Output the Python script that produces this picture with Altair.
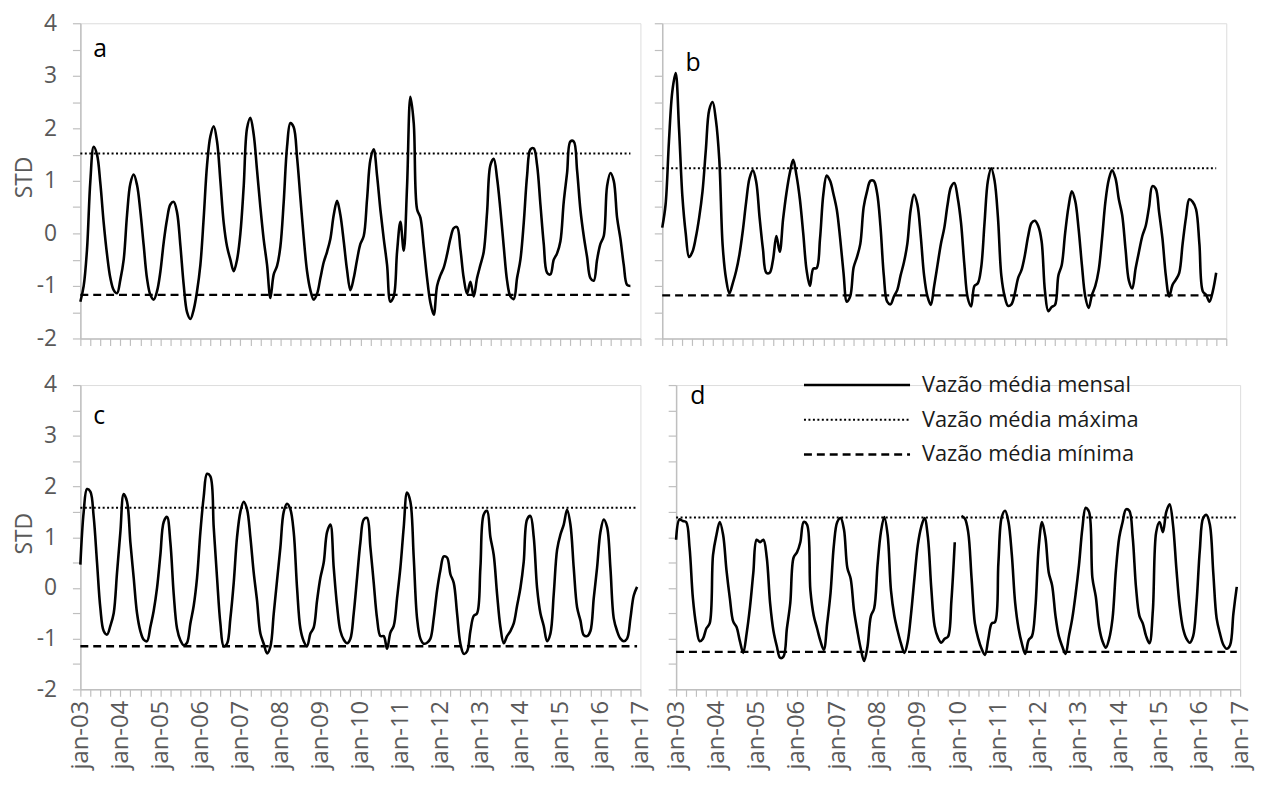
import json
import altair as alt
import pandas as pd

# ---------------- data ----------------
# monthly STD values, month 0 = jan-03
serie_a = [-1.3, -1.0, -0.3, 1.0, 1.65, 1.5, 0.95, 0.2, -0.4, -0.85, -1.08, -1.14,
           -0.88, -0.5, 0.35, 0.95, 1.12, 0.92, 0.42, -0.23, -0.86, -1.17, -1.26, -1.1,
           -0.73, -0.17, 0.27, 0.55, 0.6, 0.4, -0.23, -0.98, -1.5, -1.63, -1.45, -1.1,
           -0.6, 0.3, 1.3, 1.85, 2.04, 1.75, 1.0, 0.2, -0.25, -0.5, -0.72, -0.5,
           0.0, 0.9, 2.0, 2.2, 1.88, 1.2, 0.5, -0.12, -0.6, -1.23, -0.78, -0.62,
           -0.25, 0.6, 1.65, 2.1, 2.02, 1.45, 0.68, -0.08, -0.72, -1.08, -1.26, -1.15,
           -0.85, -0.55, -0.35, -0.1, 0.35, 0.62, 0.35, -0.15, -0.7, -1.08, -0.85, -0.5,
           -0.2, -0.05, 0.65, 1.4, 1.6, 1.1, 0.45, -0.1, -0.6, -1.3, -1.2, -0.35,
           0.22, -0.33, 0.9, 2.6, 2.1, 0.46, 0.3, -0.25, -0.85, -1.32, -1.55, -1.0,
           -0.8, -0.65, -0.4, -0.1, 0.1, 0.12, -0.3, -0.85, -1.15, -0.92, -1.2, -0.85,
           -0.6, -0.35, 0.4, 1.3, 1.42, 1.05, 0.45, -0.25, -0.9, -1.2, -1.25, -0.85,
           -0.5, 0.2, 1.1, 1.6, 1.62, 1.3, 0.55, -0.2, -0.75, -0.78, -0.5, -0.38,
           -0.15, 0.6, 1.15, 1.75, 1.75, 1.2, 0.45, -0.05, -0.45, -0.85, -0.9, -0.5,
           -0.2, -0.05, 0.9, 1.15, 1.0, 0.3, -0.1, -0.6, -0.98, -1.0]

serie_b = [0.11, 0.55, 1.75, 2.7, 3.05, 2.0, 0.71, 0.0, -0.45, -0.35, -0.08, 0.3,
           0.8, 1.6, 2.35, 2.5, 2.15, 1.4, -0.23, -0.86, -1.14, -0.95, -0.72, -0.4,
           0.05, 0.6, 1.05, 1.2, 0.98, 0.3, -0.3, -0.75, -0.75, -0.5, -0.05, -0.35,
           0.27, 0.77, 1.15, 1.4, 1.1, 0.65, 0.0, -0.7, -1.0, -0.67, -0.66, -0.1,
           0.75, 1.1, 1.0, 0.75, 0.45, -0.1, -0.75, -1.3, -1.2, -0.65, -0.45, -0.2,
           0.5, 0.8, 1.0, 1.0, 0.77, 0.14, -0.8, -1.3, -1.35, -1.2, -1.08, -0.8,
           -0.55, -0.2, 0.45, 0.74, 0.55, -0.05, -0.8, -1.2, -1.36, -1.0, -0.6, -0.2,
           0.1, 0.55, 0.88, 0.96, 0.68, 0.2, -0.6, -1.23, -1.39, -1.0, -0.95, -0.65,
           0.2, 1.0, 1.24, 1.0, 0.3, -0.8, -1.2, -1.38, -1.35, -1.15, -0.85, -0.7,
           -0.42, -0.05, 0.2, 0.24, 0.14, -0.15, -1.1, -1.48, -1.4, -1.36, -0.8, -0.6,
           0.0, 0.5, 0.8, 0.62, 0.1, -0.6, -1.2, -1.42, -1.17, -1.0, -0.7, -0.1,
           0.6, 1.02, 1.2, 1.05, 0.65, 0.35, -0.3, -0.9, -1.05, -0.67, -0.35, -0.05,
           0.14, 0.5, 0.9, 0.85, 0.4, -0.1, -0.8, -1.2, -0.98, -0.88, -0.75, -0.2,
           0.3, 0.65, 0.6, 0.46, -0.2, -1.1, -1.17, -1.3, -1.1, -0.75]

serie_c = [0.46, 1.5, 1.95, 1.9, 1.4, 0.5, -0.4, -0.85, -0.92, -0.75, -0.5, 0.3,
           1.1, 1.85, 1.7, 0.9, 0.2, -0.5, -0.85, -1.02, -1.05, -0.77, -0.45, 0.0,
           0.65, 1.3, 1.4, 0.9, -0.12, -0.8, -1.03, -1.13, -1.08, -0.7, -0.35, 0.2,
           1.1, 1.8, 2.25, 2.2, 1.2, 0.2, -0.7, -1.15, -1.1, -0.6, 0.1, 1.0,
           1.5, 1.7, 1.55, 1.0, 0.3, -0.25, -0.9, -1.1, -1.29, -1.16, -0.51, 0.15,
           0.8, 1.5, 1.66, 1.55, 1.1, 0.0, -0.8, -1.05, -1.15, -0.9, -0.78, -0.25,
           0.2, 0.5, 1.1, 1.25, 0.4, -0.35, -0.85, -1.02, -1.09, -1.0, -0.5, 0.2,
           0.9, 1.35, 1.38, 0.8, 0.1, -0.6, -0.95, -0.95, -1.2, -0.88, -0.75, -0.2,
           0.4, 1.2, 1.88, 1.7, 0.6, -0.6, -1.0, -1.1, -1.08, -1.0, -0.6, -0.05,
           0.35, 0.62, 0.6, 0.27, 0.1, -0.5, -1.1, -1.3, -1.25, -0.85, -0.55, -0.5,
           0.4, 1.45, 1.52, 1.0, 0.65, -0.12, -0.77, -1.09, -0.95, -0.85, -0.7, -0.35,
           0.0, 0.52, 1.35, 1.42, 1.0, 0.0, -0.5, -0.75, -1.05, -0.9, -0.12, 0.75,
           1.05, 1.25, 1.54, 1.25, 0.39, -0.38, -0.64, -0.93, -0.95, -0.85, -0.2, 0.4,
           1.1, 1.35, 1.2, 0.39, -0.6, -0.85, -1.0, -1.05, -1.0, -0.6, -0.15, 0.02]

serie_d = [0.95, 1.35, 1.32, 1.3, 0.8, -0.2, -0.75, -1.05, -1.0, -0.8, -0.7, 0.65,
           1.04, 1.3, 1.05, 0.35, -0.2, -0.66, -0.77, -1.05, -1.28, -0.9, -0.38, 0.3,
           0.95, 0.9, 0.95, 0.6, -0.3, -0.85, -1.15, -1.38, -1.35, -0.8, -0.3, 0.6,
           0.7, 0.9, 1.3, 1.25, -0.05, -0.55, -0.8, -1.05, -1.22, -0.7, -0.1, 0.85,
           1.3, 1.38, 1.15, 0.4, 0.18, -0.45, -0.85, -1.2, -1.44, -1.16, -0.56, -0.4,
           0.45, 1.1, 1.4, 1.05, -0.05, -0.55, -0.85, -1.1, -1.28, -1.05, -0.5, 0.2,
           0.85, 1.2, 1.38, 1.0, 0.0, -0.75, -0.98, -1.08, -1.0, -0.96, -0.25, 0.9,
           None, 1.42, 1.37, 1.1, 0.2, -0.7, -1.0, -1.2, -1.32, -1.0, -0.7, -0.67,
           0.5, 1.4, 1.52, 1.3, 0.65, -0.3, -0.8, -1.1, -1.3, -1.03, -0.95, -0.4,
           0.8, 1.3, 1.0, 0.3, 0.05, -0.55, -0.95, -1.15, -1.3, -0.95, -0.6, -0.12,
           0.45, 1.17, 1.58, 1.5, 0.2, -0.17, -0.77, -1.05, -1.18, -1.0, -0.6, 0.35,
           1.0, 1.3, 1.55, 1.52, 1.0, 0.0, -0.55, -0.7, -0.95, -1.09, -0.45, 1.1,
           1.3, 1.1, 1.5, 1.65, 1.25, 0.39, -0.36, -0.8, -1.0, -1.08, -0.95, -0.3,
           0.75, 1.38, 1.44, 1.24, 0.3, -0.6, -0.9, -1.12, -1.2, -1.13, -0.5, 0.02]

# reference levels (Vazão média máxima / mínima) per panel
nivel_max = {"a": 1.52, "b": 1.24, "c": 1.58, "d": 1.39}
nivel_min = {"a": -1.17, "b": -1.18, "c": -1.15, "d": -1.26}

rotulos_x = ["jan-%02d" % a for a in range(3, 18)]
ticks_x = list(range(0, 169, 3))
ticks_y = [-2, -1.5, -1, -0.5, 0, 0.5, 1, 1.5, 2, 2.5, 3, 3.5, 4]
legenda = ["Vazão média mensal", "Vazão média máxima", "Vazão média mínima"]

FONT = "Open Sans"
GREY = "#bfbfbf"
LABEL = "#595959"


def painel(serie, letra, letra_xy, w, h, x_labels, y_labels, com_legenda=False):
    df = pd.DataFrame({"mes": list(range(len(serie))), "std": serie})
    df["seg"] = df["std"].isna().cumsum()
    df = df.dropna()
    ultimo = float(df["mes"].max())

    x_axis = alt.Axis(
        values=ticks_x,
        labels=x_labels,
        labelExpr="datum.value % 12 == 0 ? " + json.dumps(rotulos_x) + "[datum.value / 12] : ''",
        labelAngle=-90, labelFontSize=24, labelColor=LABEL, labelFont=FONT,
        labelPadding=4, tickSize=7, tickColor=GREY, domainColor=GREY,
        domainWidth=1.5, tickWidth=1.2, grid=False, title=None,
    )
    y_kw = dict(
        values=ticks_y,
        labels=y_labels,
        labelExpr="datum.value % 1 == 0 ? '' + datum.value : ''",
        labelFontSize=23, labelColor=LABEL, labelFont=FONT, labelPadding=16,
        tickSize=8, tickColor=GREY, domainColor=GREY, domainWidth=1.5,
        tickWidth=1.2, grid=False,
    )
    if y_labels:
        y_axis = alt.Axis(title="STD", titleFont=FONT, titleFontSize=23,
                          titleFontWeight="normal", titleColor=LABEL,
                          titleAngle=-90, titleX=-44, titleY=h / 2 - 4, **y_kw)
    else:
        y_axis = alt.Axis(title=None, **y_kw)

    xs = alt.Scale(domain=[0, 168], nice=False, zero=False)
    ys = alt.Scale(domain=[-2, 4], nice=False, zero=False)
    X = alt.X("mes:Q", scale=xs, axis=x_axis)
    Y = alt.Y("std:Q", scale=ys, axis=y_axis)

    linha = alt.Chart(df).mark_line(
        interpolate="catmull-rom", color="black", strokeWidth=2.6
    ).encode(x=X, y=Y, detail="seg:N")

    ref_max = pd.DataFrame({"mes": [0.0], "mes_fim": [ultimo], "std": [nivel_max[letra]]})
    ref_min = pd.DataFrame({"mes": [0.0], "mes_fim": [ultimo], "std": [nivel_min[letra]]})
    r_max = alt.Chart(ref_max).mark_rule(
        color="black", strokeWidth=2, strokeDash=[2, 2.5]
    ).encode(x=X, x2="mes_fim:Q", y=Y)
    r_min = alt.Chart(ref_min).mark_rule(
        color="black", strokeWidth=2.4, strokeDash=[8, 5]
    ).encode(x=X, x2="mes_fim:Q", y=Y)

    txt = alt.Chart(pd.DataFrame({"t": [letra]})).mark_text(
        font=FONT, fontSize=25, color="black", align="center", baseline="middle"
    ).encode(x=alt.value(letra_xy[0]), y=alt.value(letra_xy[1]), text="t:N")

    camadas = [linha, r_max, r_min, txt]
    if com_legenda:
        dashes = [[1, 0], [2, 2.5], [8, 5]]
        widths = [2.6, 2, 2.4]
        for i, (nome, dsh, sw) in enumerate(zip(legenda, dashes, widths)):
            yy = 0 + i * 35
            camadas.append(
                alt.Chart(pd.DataFrame({"t": [nome]})).mark_rule(
                    color="black", strokeWidth=sw, strokeDash=dsh
                ).encode(x=alt.value(129), x2=alt.value(236), y=alt.value(yy))
            )
            camadas.append(
                alt.Chart(pd.DataFrame({"t": [nome]})).mark_text(
                    font=FONT, fontSize=22, color="#1a1a1a", align="left", baseline="middle"
                ).encode(x=alt.value(248), y=alt.value(yy), text="t:N")
            )
    return alt.layer(*camadas).properties(width=w, height=h)


pa = painel(serie_a, "a", (20, 26), 565, 318, False, True)
pb = painel(serie_b, "b", (31, 40), 569, 318, False, False)
pc = painel(serie_c, "c", (19, 31), 565, 307, True, True)
pd_ = painel(serie_d, "d", (22, 11), 569, 307, True, False, com_legenda=True)

chart = alt.vconcat(
    alt.hconcat(pa, pb, spacing=10),
    alt.hconcat(pc, pd_, spacing=10),
    spacing=22,
).properties(
    padding={"left": 5, "top": 0, "right": 2, "bottom": 2}
).configure_view(stroke=None).configure(background="white")

chart.save("out.html", embed_options={"renderer": "svg", "actions": False})
